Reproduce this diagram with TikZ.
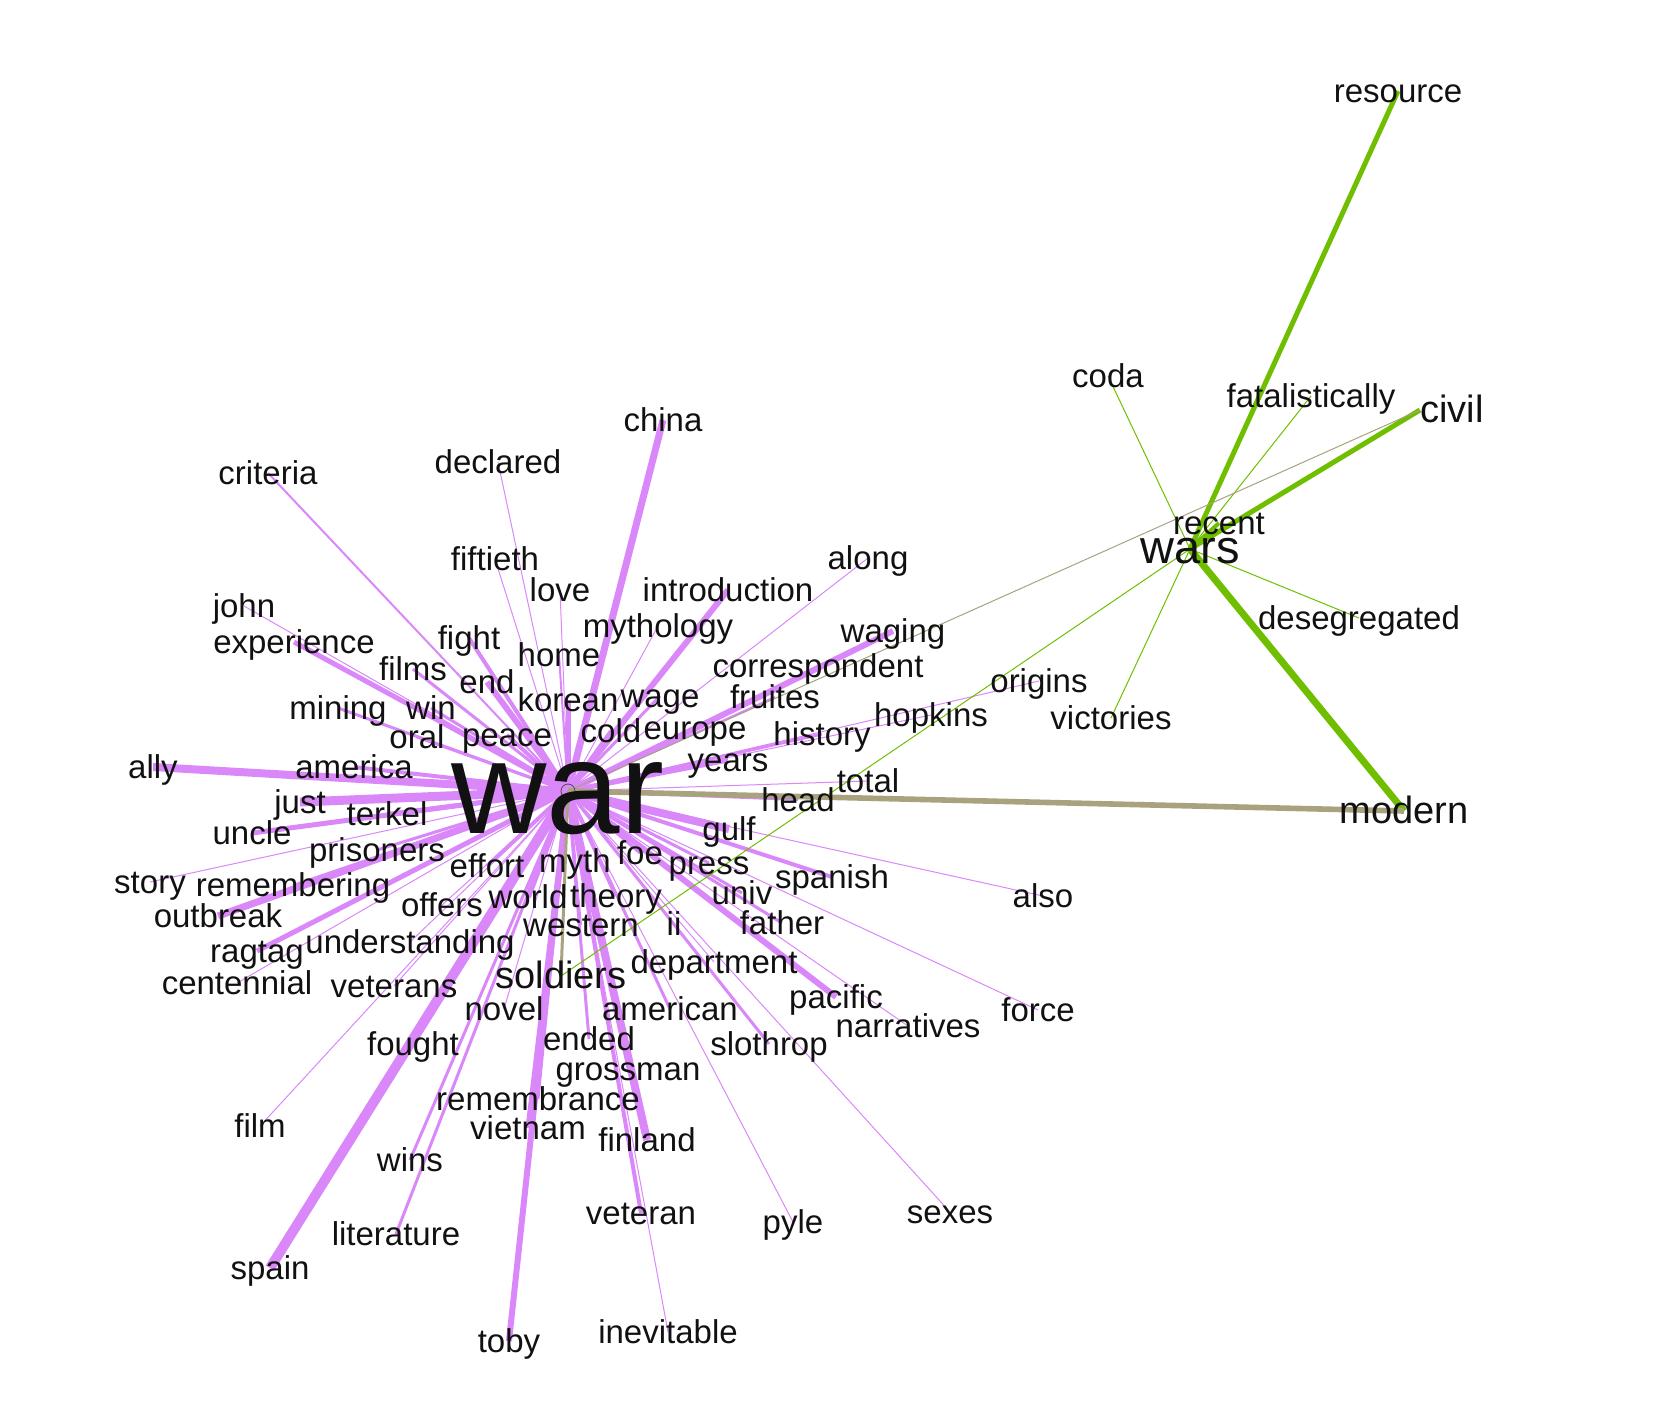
\documentclass[tikz,border=0pt]{standalone}
\usepackage{fontspec}
\setmainfont{Liberation Sans}
\usetikzlibrary{backgrounds}
\definecolor{wnPurple}{HTML}{DA88F9}
\definecolor{wnGreen}{HTML}{6FBE00}
\definecolor{wnOlive}{HTML}{A9A27F}
\definecolor{wnInk}{HTML}{111111}
\tikzset{
  wn-word/.style={
    inner sep=0pt, text=wnInk, text height=11.3pt, text depth=0pt,
    font=\fontsize{16.5}{18}\selectfont
  },
  wn-bridge/.style={
    wn-word, text height=12.6pt, font=\fontsize{19}{21}\selectfont
  },
  wn-hub/.style={
    circle, inner sep=0pt, minimum size=7pt, draw=black!70, line width=0.4pt
  },
  wn-purple/.style={draw=wnPurple},
  wn-green/.style={draw=wnGreen},
  wn-mixed/.style={draw=wnOlive},
}

\begin{document}
\begin{tikzpicture}[x=0.5pt, y=-0.5pt]
  \useasboundingbox (0,0) rectangle (1666,1410);

  % hubs
  \node[wn-hub] (war) at (568,791) {};
  \node[wn-word, text height=36pt, font=\fontsize{66}{70}\selectfont]
                                                (warword) at (558,797) {war};
  \node[wn-word, text height=14.3pt, font=\fontsize{23.5}{26}\selectfont]
                                                (wars) at (1190,549) {wars};

  % words shared by both hubs
  \node[wn-bridge] (modern)   at (1404,811) {modern};
  \node[wn-bridge] (civil)    at (1452,410) {civil};
  \node[wn-bridge] (soldiers) at (561,976)  {soldiers};

  % words round "wars"
  \node[wn-word] (resource)       at (1398,91)  {resource};
  \node[wn-word] (coda)           at (1108,376) {coda};
  \node[wn-word] (fatalistically) at (1311,396) {fatalistically};
  \node[wn-word] (recent)         at (1219,523) {recent};
  \node[wn-word] (desegregated)   at (1359,618) {desegregated};
  \node[wn-word] (victories)      at (1111,718) {victories};

  % words round "war"
  \node[wn-word] (criteria)      at (268,473)  {criteria};
  \node[wn-word] (declared)      at (498,462)  {declared};
  \node[wn-word] (china)         at (663,420)  {china};
  \node[wn-word] (fiftieth)      at (495,559)  {fiftieth};
  \node[wn-word] (love)          at (560,590)  {love};
  \node[wn-word] (introduction)  at (728,590)  {introduction};
  \node[wn-word] (along)         at (868,558)  {along};
  \node[wn-word] (john)          at (244,606)  {john};
  \node[wn-word] (experience)    at (294,642)  {experience};
  \node[wn-word] (fight)         at (469,638)  {fight};
  \node[wn-word] (mythology)     at (658,626)  {mythology};
  \node[wn-word] (home)          at (559,655)  {home};
  \node[wn-word] (waging)        at (893,631)  {waging};
  \node[wn-word] (films)         at (413,669)  {films};
  \node[wn-word] (end)           at (487,682)  {end};
  \node[wn-word] (correspondent) at (818,666)  {correspondent};
  \node[wn-word] (korean)        at (568,700)  {korean};
  \node[wn-word] (wage)          at (660,696)  {wage};
  \node[wn-word] (fruites)       at (775,697)  {fruites};
  \node[wn-word] (mining)        at (338,708)  {mining};
  \node[wn-word] (win)           at (431,708)  {win};
  \node[wn-word] (oral)          at (417,737)  {oral};
  \node[wn-word] (peace)         at (507,735)  {peace};
  \node[wn-word] (cold)          at (611,731)  {cold};
  \node[wn-word] (europe)        at (695,728)  {europe};
  \node[wn-word] (history)       at (822,734)  {history};
  \node[wn-word] (hopkins)       at (931,715)  {hopkins};
  \node[wn-word] (origins)       at (1039,681) {origins};
  \node[wn-word] (years)         at (728,760)  {years};
  \node[wn-word] (total)         at (868,781)  {total};
  \node[wn-word] (head)          at (798,800)  {head};
  \node[wn-word] (ally)          at (153,767)  {ally};
  \node[wn-word] (america)       at (354,767)  {america};
  \node[wn-word] (just)          at (300,802)  {just};
  \node[wn-word] (terkel)        at (387,814)  {terkel};
  \node[wn-word] (uncle)         at (252,833)  {uncle};
  \node[wn-word] (prisoners)     at (377,850)  {prisoners};
  \node[wn-word] (gulf)          at (729,829)  {gulf};
  \node[wn-word] (story)         at (150,882)  {story};
  \node[wn-word] (remembering)   at (293,885)  {remembering};
  \node[wn-word] (effort)        at (487,866)  {effort};
  \node[wn-word] (myth)          at (575,861)  {myth};
  \node[wn-word] (foe)           at (640,853)  {foe};
  \node[wn-word] (press)         at (709,863)  {press};
  \node[wn-word] (spanish)       at (832,877)  {spanish};
  \node[wn-word] (also)          at (1043,896) {also};
  \node[wn-word] (outbreak)      at (218,916)  {outbreak};
  \node[wn-word] (offers)        at (442,905)  {offers};
  \node[wn-word] (world)         at (528,897)  {world};
  \node[wn-word] (theory)        at (616,896)  {theory};
  \node[wn-word] (univ)          at (742,893)  {univ};
  \node[wn-word] (ragtag)        at (257,951)  {ragtag};
  \node[wn-word] (understanding) at (410,942)  {understanding};
  \node[wn-word] (western)       at (581,925)  {western};
  \node[wn-word] (ii)            at (674,924)  {ii};
  \node[wn-word] (father)        at (782,923)  {father};
  \node[wn-word] (centennial)    at (237,983)  {centennial};
  \node[wn-word] (veterans)      at (394,986)  {veterans};
  \node[wn-word] (department)    at (714,962)  {department};
  \node[wn-word] (pacific)       at (836,997)  {pacific};
  \node[wn-word] (novel)         at (504,1009) {novel};
  \node[wn-word] (american)      at (670,1009) {american};
  \node[wn-word] (narratives)    at (908,1026) {narratives};
  \node[wn-word] (force)         at (1038,1010) {force};
  \node[wn-word] (fought)        at (413,1044) {fought};
  \node[wn-word] (ended)         at (589,1039) {ended};
  \node[wn-word] (slothrop)      at (769,1044) {slothrop};
  \node[wn-word] (grossman)      at (628,1069) {grossman};
  \node[wn-word] (remembrance)   at (538,1099) {remembrance};
  \node[wn-word] (film)          at (260,1126) {film};
  \node[wn-word] (vietnam)       at (528,1128) {vietnam};
  \node[wn-word] (finland)       at (647,1140) {finland};
  \node[wn-word] (wins)          at (410,1160) {wins};
  \node[wn-word] (veteran)       at (641,1213) {veteran};
  \node[wn-word] (pyle)          at (793,1222) {pyle};
  \node[wn-word] (sexes)         at (950,1212) {sexes};
  \node[wn-word] (literature)    at (396,1234) {literature};
  \node[wn-word] (spain)         at (270,1268) {spain};
  \node[wn-word] (toby)          at (509,1341) {toby};
  \node[wn-word] (inevitable)    at (668,1332) {inevitable};

  \begin{scope}[on background layer]
    % links of "war"
    \foreach \w/\lw in {criteria/1, declared/0.5, china/3.5, fiftieth/0.5,
        love/0.5, introduction/3, along/0.5, john/0.5, experience/2.5,
        fight/2, mythology/0.5, home/1, waging/3, films/1.5, end/3,
        correspondent/1, korean/2.5, wage/1.5, fruites/1, mining/1.5,
        win/1.5, oral/1.5, peace/2, cold/2, europe/1.5, history/1.5,
        hopkins/0.5, origins/0.5, years/2.5, total/0.5, head/1, ally/4,
        america/2, just/4.5, terkel/2, uncle/2.5, prisoners/1.5, gulf/4,
        story/0.5, remembering/1, effort/2, myth/1.5, foe/1.5, press/1.5,
        spanish/2, also/0.5, outbreak/3.5, offers/0.5, world/3, theory/2,
        univ/1.5, ragtag/2.5, understanding/0.5, western/1, ii/1,
        father/1.5, centennial/0.5, veterans/0.5, department/0.5,
        pacific/3, novel/0.5, american/1.5, narratives/0.5, force/0.5,
        fought/2, ended/1.5, slothrop/1.5, grossman/1, remembrance/1.5,
        film/0.5, vietnam/2.5, finland/4, wins/1.5, veteran/2, pyle/0.5,
        sexes/0.5, literature/1.5, spain/5, toby/3, inevitable/0.5}
      \draw[wn-purple, line width=\lw pt] (war.center) -- (\w.center);
    % links of "wars"
    \foreach \w/\lw in {resource/2.5, coda/0.5, fatalistically/0.5,
        recent/2, desegregated/0.5, victories/0.5, modern/3.5,
        soldiers/0.5}
      \draw[wn-green, line width=\lw pt] (wars.center) -- (\w.center);
    \draw[wn-green, line width=2.5pt] (wars.center) -- (civil.west);
    % links between the hubs' words
    \draw[wn-mixed, line width=2.8pt] (war.center) -- (modern.center);
    \draw[wn-mixed, line width=0.5pt] (war.center) -- (civil.west);
    \draw[wn-mixed, line width=1.5pt] (war.center) -- (soldiers.center);
  \end{scope}
\end{tikzpicture}
\end{document}
